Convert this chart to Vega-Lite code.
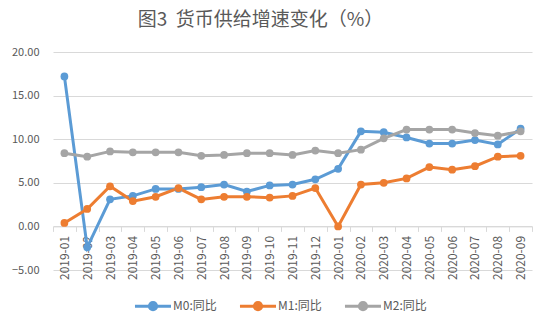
{
  "$schema": "https://vega.github.io/schema/vega-lite/v6.json",
  "width": 479,
  "height": 218,
  "autosize": "none",
  "padding": {"left": 53, "top": 52, "right": 12, "bottom": 51},
  "background": "white",
  "title": {
    "text": "图3\u00a0\u00a0货币供给增速变化（%）",
    "font": "Noto Sans CJK SC",
    "fontSize": 19,
    "fontWeight": "normal",
    "color": "#595959",
    "anchor": "middle",
    "dx": -32,
    "offset": 16
  },
  "config": {
    "view": {"stroke": null},
    "font": "Noto Sans CJK SC"
  },
  "data": {
    "values": [
      {"m": "2019-01", "M0": 17.2, "M1": 0.4, "M2": 8.4},
      {"m": "2019-02", "M0": -2.4, "M1": 2.0, "M2": 8.0},
      {"m": "2019-03", "M0": 3.1, "M1": 4.6, "M2": 8.6},
      {"m": "2019-04", "M0": 3.5, "M1": 2.9, "M2": 8.5},
      {"m": "2019-05", "M0": 4.3, "M1": 3.4, "M2": 8.5},
      {"m": "2019-06", "M0": 4.3, "M1": 4.4, "M2": 8.5},
      {"m": "2019-07", "M0": 4.5, "M1": 3.1, "M2": 8.1},
      {"m": "2019-08", "M0": 4.8, "M1": 3.4, "M2": 8.2},
      {"m": "2019-09", "M0": 4.0, "M1": 3.4, "M2": 8.4},
      {"m": "2019-10", "M0": 4.7, "M1": 3.3, "M2": 8.4},
      {"m": "2019-11", "M0": 4.8, "M1": 3.5, "M2": 8.2},
      {"m": "2019-12", "M0": 5.4, "M1": 4.4, "M2": 8.7},
      {"m": "2020-01", "M0": 6.6, "M1": 0.0, "M2": 8.4},
      {"m": "2020-02", "M0": 10.9, "M1": 4.8, "M2": 8.8},
      {"m": "2020-03", "M0": 10.8, "M1": 5.0, "M2": 10.1},
      {"m": "2020-04", "M0": 10.2, "M1": 5.5, "M2": 11.1},
      {"m": "2020-05", "M0": 9.5, "M1": 6.8, "M2": 11.1},
      {"m": "2020-06", "M0": 9.5, "M1": 6.5, "M2": 11.1},
      {"m": "2020-07", "M0": 9.9, "M1": 6.9, "M2": 10.7},
      {"m": "2020-08", "M0": 9.4, "M1": 8.0, "M2": 10.4},
      {"m": "2020-09", "M0": 11.2, "M1": 8.1, "M2": 10.9}
    ]
  },
  "transform": [{"fold": ["M0", "M1", "M2"], "as": ["series", "value"]}],
  "mark": {"type": "line", "strokeWidth": 3, "point": {"filled": true, "size": 60}},
  "encoding": {
    "x": {
      "field": "m",
      "type": "ordinal",
      "bandPosition": 0.5,
      "scale": {"type": "band", "paddingInner": 0, "paddingOuter": 0},
      "axis": {
        "title": null,
        "offset": -43.6,
        "labelAngle": -90,
        "labelFontSize": 12,
        "labelColor": "#595959",
        "labelPadding": 4,
        "tickBand": "extent",
        "tickColor": "#D9D9D9",
        "tickSize": 5,
        "domainColor": "#D9D9D9",
        "grid": false
      }
    },
    "y": {
      "field": "value",
      "type": "quantitative",
      "scale": {"domain": [-5, 20], "nice": false},
      "axis": {
        "title": null,
        "values": [-5, 0, 5, 10, 15, 20],
        "format": ".2f",
        "domain": false,
        "ticks": false,
        "labelFontSize": 11,
        "labelColor": "#595959",
        "labelPadding": 14,
        "gridColor": "#D9D9D9"
      }
    },
    "color": {
      "field": "series",
      "type": "nominal",
      "scale": {"domain": ["M0", "M1", "M2"], "range": ["#5B9BD5", "#ED7D31", "#A5A5A5"]},
      "legend": {
        "title": null,
        "orient": "none",
        "direction": "horizontal",
        "legendX": 80,
        "legendY": 234,
        "padding": 0,
        "labelExpr": "datum.label + ':同比'",
        "labelFontSize": 12,
        "labelColor": "#595959",
        "labelOffset": 0,
        "columnPadding": 16,
        "symbolType": "M-1,0H1M0.2,0A0.2,0.2 0 1,1 -0.2,0A0.2,0.2 0 1,1 0.2,0Z",
        "symbolSize": 1300,
        "symbolStrokeWidth": 3,
        "encode": {
          "symbols": {
            "update": {
              "fill": {"scale": "color", "field": "value"},
              "stroke": {"scale": "color", "field": "value"},
              "fillOpacity": {"value": 1}
            }
          }
        }
      }
    }
  }
}
